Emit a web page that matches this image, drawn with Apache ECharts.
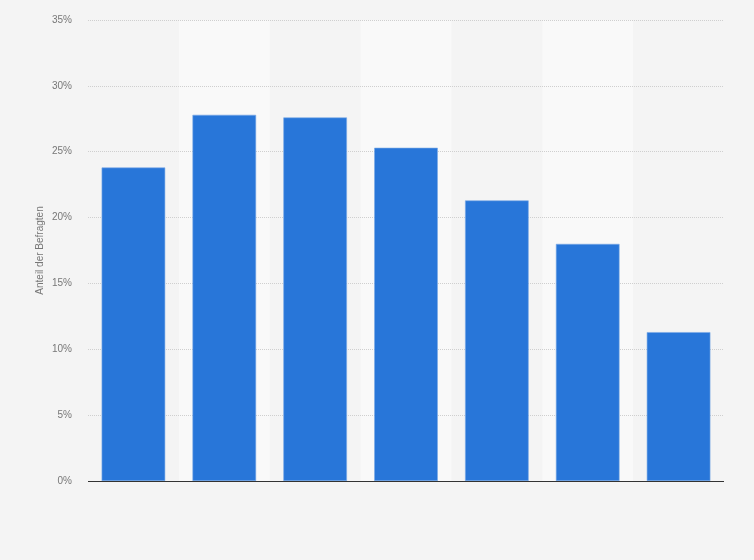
<!DOCTYPE html>
<html>
<head>
<meta charset="utf-8">
<script src="https://cdn.jsdelivr.net/npm/echarts@6/dist/echarts.min.js"></script>
<style>
html,body{margin:0;padding:0;background:#f4f4f4;}
#chart{width:754px;height:560px;}
</style>
</head>
<body>
<div id="chart"></div>
<script>
const categories = ['1', '2', '3', '4', '5', '6', '7'];
const shares = [23.8, 27.8, 27.6, 25.3, 21.3, 18.0, 11.3];
const yTicks = [0, 5, 10, 15, 20, 25, 30, 35];
const yAxisTitle = 'Anteil der Befragten';

const chart = echarts.init(document.getElementById('chart'));
chart.setOption({
  backgroundColor: '#f4f4f4',
  animation: false,
  grid: { left: 88, right: 30, top: 20, bottom: 79 },
  xAxis: {
    type: 'category',
    data: categories,
    z: 0,
    axisLine: { show: false },
    axisTick: { show: false },
    axisLabel: { show: false },
    splitArea: { show: true, areaStyle: { color: ['rgba(0,0,0,0)', '#f9f9f9'] } }
  },
  yAxis: {
    type: 'value',
    z: 1,
    min: yTicks[0],
    max: yTicks[yTicks.length - 1],
    interval: 5,
    name: yAxisTitle,
    nameLocation: 'middle',
    nameGap: 43,
    nameMoveOverlap: false,
    nameRotate: 90,
    nameTextStyle: { color: '#777', fontSize: 10, fontFamily: 'Liberation Sans, Arial, sans-serif' },
    axisLine: { show: false },
    axisTick: { show: false },
    axisLabel: {
      color: '#777', fontSize: 10, margin: 16,
      fontFamily: 'Liberation Sans, Arial, sans-serif',
      formatter: v => v + '%'
    },
    splitLine: { show: true, lineStyle: { color: '#cfcfcf', type: 'dotted', width: 1 } }
  },
  series: [{
    type: 'bar',
    data: shares,
    barCategoryGap: '30%',
    itemStyle: { color: '#2876d9', borderColor: '#7aa9e6', borderWidth: 0.6 },
    z: 3,
    markLine: {
      silent: true,
      symbol: 'none',
      label: { show: false },
      lineStyle: { color: '#333', width: 1, type: 'solid' },
      data: [{ yAxis: yTicks[0] }],
      z: 4
    }
  }]
});
</script>
</body>
</html>
